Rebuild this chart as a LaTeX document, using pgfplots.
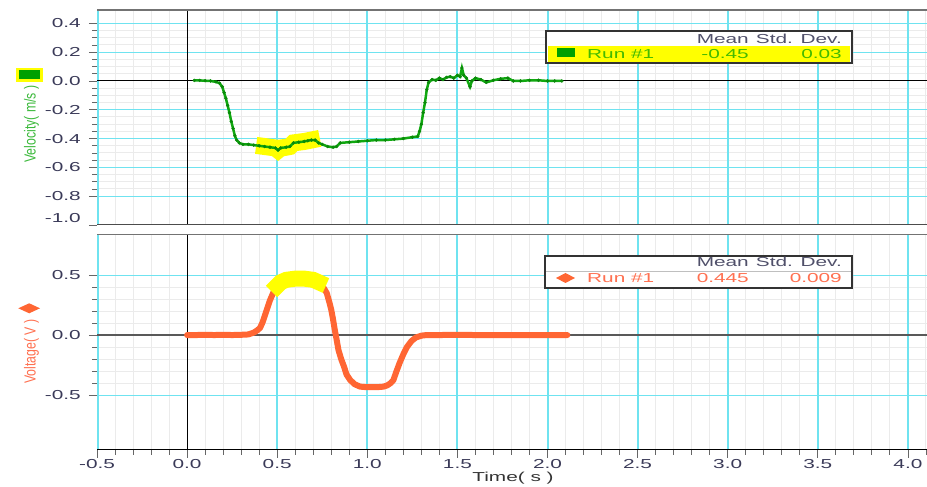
\documentclass[border=0pt]{standalone}
\usepackage{fontspec}
\setmainfont{Liberation Sans}
\newfontfamily\widefont[FakeStretch=1.6]{Liberation Sans}
\usepackage{pgfplots}
\pgfplotsset{compat=1.18}
\usepackage{pgfplotstable}

\definecolor{gridcyan}{HTML}{6FE3F0}
\definecolor{gridminor}{HTML}{EBEBEB}
\definecolor{ticktext}{HTML}{3A3A58}
\definecolor{headtext}{HTML}{50506A}
\definecolor{velgreen}{HTML}{10A810}
\definecolor{velmark}{HTML}{0A8A0A}
\definecolor{vellabel}{HTML}{3CB93C}
\definecolor{legendgreen}{HTML}{44BB00}
\definecolor{legsquare}{HTML}{00A000}
\definecolor{hiyellow}{HTML}{FFFF00}
\definecolor{voltorange}{HTML}{FF6633}
\definecolor{voltlabel}{HTML}{FF7050}

\newcommand\ticksfont{\widefont\fontsize{13}{13}\selectfont}
\newcommand\sidefont{\fontsize{12.3}{12.3}\selectfont}

% velocity, run #1 (m/s)
\pgfplotstableread{
t v
0.04 0.004
0.07 0.004
0.10 0.002
0.13 0.000
0.16 -0.006
0.18 -0.015
0.195 -0.04
0.205 -0.08
0.215 -0.12
0.225 -0.17
0.235 -0.22
0.245 -0.28
0.255 -0.33
0.265 -0.38
0.275 -0.41
0.29 -0.43
0.31 -0.44
0.34 -0.44
0.37 -0.445
0.40 -0.45
0.43 -0.455
0.46 -0.46
0.49 -0.465
0.505 -0.48
0.52 -0.465
0.55 -0.46
0.57 -0.455
0.59 -0.43
0.62 -0.425
0.65 -0.42
0.67 -0.415
0.69 -0.41
0.71 -0.41
0.73 -0.43
0.75 -0.44
0.78 -0.455
0.81 -0.46
0.83 -0.455
0.85 -0.43
0.90 -0.425
0.95 -0.42
1.00 -0.415
1.05 -0.41
1.10 -0.41
1.15 -0.405
1.20 -0.40
1.25 -0.39
1.28 -0.385
1.29 -0.35
1.30 -0.30
1.31 -0.22
1.32 -0.15
1.33 -0.06
1.34 -0.01
1.36 0.01
1.38 0.005
1.40 0.02
1.42 0.01
1.44 0.025
1.46 0.03
1.48 0.02
1.50 0.04
1.515 0.03
1.525 0.09
1.535 0.04
1.55 0.02
1.57 -0.04
1.58 0.0
1.60 0.02
1.63 0.01
1.66 -0.01
1.70 0.005
1.74 0.015
1.78 0.02
1.81 0.0
1.85 0.0
1.90 0.005
1.95 0.005
2.00 0.0
2.04 0.0
2.08 0.0
}\velocity

% voltage, run #1 (V)
\pgfplotstableread{
t v
0.00 0.0
0.05 0.0
0.10 0.002
0.15 0.0
0.20 0.002
0.25 0.0
0.30 0.002
0.34 0.005
0.37 0.02
0.39 0.04
0.405 0.06
0.42 0.11
0.44 0.20
0.46 0.29
0.48 0.36
0.50 0.41
0.52 0.44
0.55 0.46
0.60 0.47
0.65 0.47
0.70 0.46
0.73 0.44
0.755 0.40
0.775 0.35
0.79 0.27
0.80 0.21
0.81 0.13
0.82 0.04
0.83 -0.04
0.84 -0.125
0.855 -0.20
0.87 -0.26
0.885 -0.33
0.905 -0.375
0.93 -0.41
0.96 -0.43
1.00 -0.435
1.05 -0.435
1.09 -0.43
1.11 -0.42
1.13 -0.40
1.145 -0.375
1.16 -0.31
1.18 -0.23
1.20 -0.16
1.22 -0.10
1.245 -0.05
1.27 -0.02
1.30 -0.005
1.33 0.0
1.40 0.0
1.50 0.002
1.60 0.0
1.70 0.0
1.80 0.0
1.90 0.0
2.00 0.0
2.11 0.0
}\voltage

\pgfplotsset{
  logger/.style={
    scale only axis, width=830pt,
    xmin=-0.5, xmax=4.106,
    xtick={-0.5,0,0.5,1,1.5,2,2.5,3,3.5,4},
    minor xtick={-0.4,-0.3,-0.2,-0.1,0.1,0.2,0.3,0.4,0.6,0.7,0.8,0.9,
      1.1,1.2,1.3,1.4,1.6,1.7,1.8,1.9,2.1,2.2,2.3,2.4,2.6,2.7,2.8,2.9,
      3.1,3.2,3.3,3.4,3.6,3.7,3.8,3.9,4.1},
    grid=both,
    axis line style={draw=none},
    tick align=outside,
    tick pos=left,
    major tick length=8pt, minor tick length=5pt,
    every tick/.append style={black!60, line width=0.8pt},
    major grid style={draw=gridcyan, line width=1pt},
    minor grid style={draw=gridminor, line width=1pt},
    ticklabel style={font=\ticksfont, text=ticktext},
    yticklabel style={anchor=east, inner sep=0pt, xshift=-8pt},
    xticklabel style={anchor=north, inner sep=0pt, yshift=-1pt},
  }
}
% one cyan line at a major time tick: {t}{ymin}{ymax}
\newcommand\tline[3]{\draw[gridcyan, line width=2pt] (axis cs:#1,#2) -- (axis cs:#1,#3);}
\newcommand\timegrid[2]{%
  \tline{0.5}{#1}{#2}\tline{1.0}{#1}{#2}%
  \tline{1.5}{#1}{#2}\tline{2.0}{#1}{#2}\tline{2.5}{#1}{#2}%
  \tline{3.0}{#1}{#2}\tline{3.5}{#1}{#2}\tline{4.0}{#1}{#2}}

\begin{document}
\begin{tikzpicture}[x=1pt,y=1pt]
\useasboundingbox (0,0) rectangle (927,487);

% ---- velocity panel ----
\begin{axis}[logger,
  at={(97pt,262pt)}, anchor=south west, height=215pt,
  ymin=-1.0, ymax=0.493,
  ytick={-0.8,-0.6,-0.4,-0.2,0,0.2,0.4},
  yticklabels={-0.8,-0.6,-0.4,-0.2,0.0,0.2,0.4},
  minor y tick num=3,
  extra y ticks={-1.0}, extra y tick labels={-1.0},
  extra y tick style={yticklabel style={yshift=7pt}},
  xticklabel style={text opacity=0},
  major x tick style={draw=none}, minor x tick style={draw=none},
]
\timegrid{-1.0}{0.493}
\draw[gridcyan, line width=2pt] ([xshift=1pt]rel axis cs:0,0) -- ([xshift=1pt]rel axis cs:0,1);
\draw[black, line width=1.2pt] (axis cs:0,-1.0) -- (axis cs:0,0.493);
\draw[black, line width=1pt] (axis cs:-0.5,0) -- (axis cs:4.106,0);
\addplot[hiyellow, line width=17pt, line cap=rect, line join=miter, restrict x to domain=0.43:0.70, forget plot]
  table[x=t, y=v] {\velocity};
\addplot[velgreen, line width=2.5pt, mark=*, mark size=1.5pt,
  mark options={fill=velmark, draw=velmark, line width=0.4pt}]
  table[x=t, y=v] {\velocity};
\draw[black, line width=1.3pt] ([xshift=-0.5pt]rel axis cs:0,0) -- ([xshift=-0.5pt]rel axis cs:0,1);
\draw[black!55, line width=1.2pt] (rel axis cs:0,1) -- (rel axis cs:1,1);
\draw[black!70, line width=1.2pt] (rel axis cs:0,0) -- (rel axis cs:1,0);
\end{axis}

% ---- voltage panel ----
\begin{axis}[logger,
  at={(97pt,37pt)}, anchor=south west, height=216pt,
  ymin=-0.958, ymax=0.842,
  ytick={-0.5,0,0.5}, yticklabels={-0.5,0.0,0.5},
  minor y tick num=4,
  xticklabels={-0.5,0.0,0.5,1.0,1.5,2.0,2.5,3.0,3.5,4.0},
]
\timegrid{-0.958}{0.842}
\draw[gridcyan, line width=2pt] ([xshift=1pt]rel axis cs:0,0) -- ([xshift=1pt]rel axis cs:0,1);
\draw[black, line width=1.2pt] (axis cs:0,-0.958) -- (axis cs:0,0.842);
\draw[black!65, line width=1.2pt] (axis cs:-0.5,0) -- (axis cs:4.106,0);
\addplot[voltorange, line width=6pt, line cap=round, line join=round]
  table[x=t, y=v] {\voltage};
\addplot[hiyellow, line width=16pt, line cap=rect, line join=miter, restrict x to domain=0.50:0.74, forget plot]
  table[x=t, y=v] {\voltage};
\draw[black, line width=1.3pt] ([xshift=-0.5pt]rel axis cs:0,0) -- ([xshift=-0.5pt]rel axis cs:0,1);
\draw[black!55, line width=1.2pt] (rel axis cs:0,1) -- (rel axis cs:1,1);
\draw[black, line width=1.2pt] (rel axis cs:0,0) -- (rel axis cs:1,0);
\end{axis}

% axis titles
\fill[hiyellow] (15.7,405.3) rectangle (43.3,419.3);
\fill[legsquare] (19,407.7) rectangle (40,417);
\node[rotate=90, text=vellabel, font=\sidefont, inner sep=0pt] at (31.5,363) {\scalebox{1}[1.3]{Velocity( m/s )}};
\fill[voltorange] (18.3,178.7) -- (29.2,183.7) -- (40,178.7) -- (29.2,173.7) -- cycle;
\node[rotate=90, text=voltlabel, font=\sidefont, inner sep=0pt] at (31.5,135.5) {\scalebox{1}[1.3]{Voltage( V )}};
\node[text=black!80, font=\ticksfont, inner sep=0pt] at (513,9) {Time( s )};

% statistics box, velocity
\draw[fill=white, draw=black!80, line width=1.3pt] (546,424) rectangle (852,456);
\fill[hiyellow] (548,425) rectangle (850,441);
\node[anchor=east, inner sep=0pt, text=headtext, font=\ticksfont] at (749,448) {Mean};
\node[anchor=east, inner sep=0pt, text=headtext, font=\ticksfont] at (842,448) {Std. Dev.};
\fill[legsquare] (557,429.7) rectangle (575,438.7);
\node[anchor=west, inner sep=0pt, text=legendgreen, font=\ticksfont] at (587,433) {Run \#1};
\node[anchor=east, inner sep=0pt, text=legendgreen, font=\ticksfont] at (749,433) {-0.45};
\node[anchor=east, inner sep=0pt, text=legendgreen, font=\ticksfont] at (842,433) {0.03};

% statistics box, voltage
\draw[fill=white, draw=black!80, line width=1.3pt] (545,199) rectangle (852,231);
\draw[black!25, line width=0.6pt] (546,216) -- (851,216);
\node[anchor=east, inner sep=0pt, text=headtext, font=\ticksfont] at (749,225) {Mean};
\node[anchor=east, inner sep=0pt, text=headtext, font=\ticksfont] at (842,225) {Std. Dev.};
\fill[voltorange] (556,209) -- (565.5,214) -- (575,209) -- (565.5,204) -- cycle;
\node[anchor=west, inner sep=0pt, text=voltlabel, font=\ticksfont] at (587,209) {Run \#1};
\node[anchor=east, inner sep=0pt, text=voltlabel, font=\ticksfont] at (749,209) {0.445};
\node[anchor=east, inner sep=0pt, text=voltlabel, font=\ticksfont] at (842,209) {0.009};
\end{tikzpicture}
\end{document}
